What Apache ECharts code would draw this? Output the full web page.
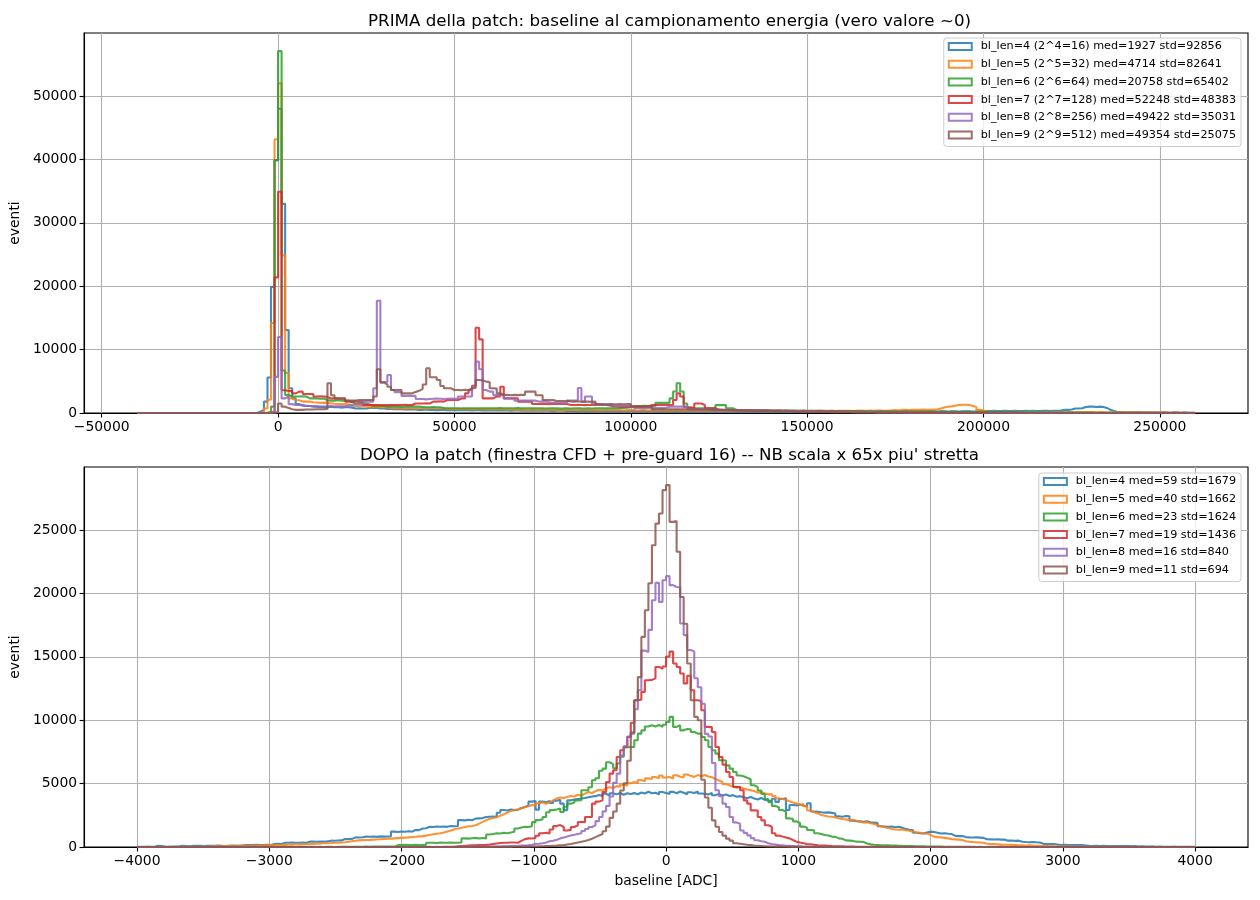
<!DOCTYPE html>
<html><head><meta charset="utf-8">
<script src="https://cdn.jsdelivr.net/npm/echarts@6/dist/echarts.min.js"></script>
<style>html,body{margin:0;padding:0;background:#fff}#c{width:1260px;height:900px}</style>
</head><body><div id="c"></div>
<script>
const topTitle = 'PRIMA della patch: baseline al campionamento energia (vero valore ~0)';
const bottomTitle = "DOPO la patch (finestra CFD + pre-guard 16) -- NB scala x 65x piu' stretta";
const yName = 'eventi';
const xName = 'baseline [ADC]';
const topNames = [
  'bl_len=4 (2^4=16) med=1927 std=92856',
  'bl_len=5 (2^5=32) med=4714 std=82641',
  'bl_len=6 (2^6=64) med=20758 std=65402',
  'bl_len=7 (2^7=128) med=52248 std=48383',
  'bl_len=8 (2^8=256) med=49422 std=35031',
  'bl_len=9 (2^9=512) med=49354 std=25075'
];
const bottomNames = [
  'bl_len=4 med=59 std=1679',
  'bl_len=5 med=40 std=1662',
  'bl_len=6 med=23 std=1624',
  'bl_len=7 med=19 std=1436',
  'bl_len=8 med=16 std=840',
  'bl_len=9 med=11 std=694'
];
const colors = ['#1f77b4','#ff7f0e','#2ca02c','#d62728','#9467bd','#8c564b'];
const topBinRange = [-40000, 260000];
const bottomBinRange = [-4000, 4000];
const countUnit = 100; // counts below are given in hundreds of events
const topXTicks = [-50000,0,50000,100000,150000,200000,250000];
const topYTicks = [0,10000,20000,30000,40000,50000];
const bottomXTicks = [-4000,-3000,-2000,-1000,0,1000,2000,3000,4000];
const bottomYTicks = [0,5000,10000,15000,20000,25000];

// ---- top panel counts (300 bins of 1000 ADC, from -40000) ----
const topBl4 = [
0,0,0,0,0,0,0,0,0,0,
0,0,0,0,0,0,0,0,0,0,
0,0,0,0,0,0,0,0,0,0,
0,0,0,0,2,5,18,56,199,399,
480,330,131,39,23,14,12,11,11,10,
10,9,9.5,9,10,9,9.5,8.5,9,9,
8.5,7,7.5,7,7,8,8,8,7,7,
6.5,6.5,6,6.5,6,5.5,6,5.5,5.5,5,
5,5.5,5,5,4.5,5,5,4.5,5,4.5,
4.5,5,4.5,4.5,4,4.5,4.5,4,4.5,4,
4,4,4.5,4,4,3.5,4,4,3.5,4,
3.5,4,3.5,3.5,4,3.5,3.5,3,3.5,3.5,
3.5,3,3.5,3,3,3.5,3,3,3,3,
3,3,3,2.5,3,3,3,2.5,3,3,
3,2.5,3,3,2.5,3,3,2.5,3,2.5,
3,2.5,2.5,3,2.5,2.5,3,2.5,2.5,2.5,
2.5,2.5,2.5,2.5,2.5,2.5,2,2.5,2.5,2.5,
2.5,2.5,2.5,2.5,2.5,2.5,2,2.5,2.5,2.5,
2.5,2.5,2,2.5,2.5,2,2.5,2.5,2,2.5,
2.5,2,2.5,2.5,2,2.5,2.5,2,2.5,2.5,
2.5,2,2.5,2,2.5,2.5,2,2.5,2,2.5,
2.5,2.5,2,2.5,2.5,2,2.5,2.5,2,2.5,
2,2.5,2.5,2,2.5,2.5,2,2.5,2.5,2,
2.5,2.5,2,2.5,2.5,2.5,2,2.5,3,3,
3,3,3.5,3,3,3.5,3,3,3.5,3,
3,3.5,3,3.5,3,3,3.5,3.5,3,3.5,
3.5,4,5,5,5.5,7,7,7.5,9.5,10,
10,9.5,10,9.5,8,5,3,1.5,1.5,1,
1,1,1,1.5,1,1,1,1,1,1,
1,1,0.5,1,1,0.5,1,0.5,0.5,0.5
];
const topBl5 = [
0,0,0,0,0,0,0,0,0,0,
0,0,0,0,0,0,0,0,0,0,
0,0,0,0,0,0,0,0,0,0,
0,0,0,0,0,2,7,21,142,432,
520,249,63,23,20.5,20,18,18,18,17,
16.5,16,16.3,16,15.5,14.5,14.2,14,14,13.5,
12,11,11,11.5,10.5,9,9,9,9.5,9,
8.5,8,7.5,7.5,7.5,7.5,7.5,7.5,7,7.5,
7.5,7,7.5,7.5,7,7,7.5,6,6,5.8,
5.8,6,5.8,5.8,5.5,5.8,6,5.8,5.5,5.8,
5.5,5.8,5.5,5.5,5,5.5,5.5,5,5.5,5,
5,5.5,5,5,5.5,5,5,4.5,5,5,
5,4.5,5,5,4.5,5,5,4.5,4.5,5,
4.5,5,4.5,4.5,5,4.5,4.5,4,4.5,4.5,
4.5,4,4.5,4.5,4,4.5,4,4,4.5,4,
4,4,4.5,4,4,3.5,4,4,3.5,4,
4,3.5,4,4,3.5,4,3.5,3.5,4,3.5,
3.5,3.5,4,3.5,3.5,3.5,3,3.5,3.5,3.5,
3.5,3.5,3,3.5,3.5,3.5,3,3.5,3.5,3,
3.5,3,3.5,3.5,3,3.5,3.5,3,3.5,3.5,
3.5,3.5,3,3.5,4,3.5,3.5,4,3.5,4,
4,3.5,4,4,4.5,4,5,5,4.5,5,
5,5,5.5,5,5,5.5,6,7,9,10,
10.5,11.5,12.5,13,13,12.5,11,9.5,5,4,
2,1.5,1.5,1.5,1.5,1.5,1.5,1.5,1.5,1.5,
1.5,1.5,1.5,1.5,1.5,1.5,1,1.5,1.5,1,
1.5,1.5,1,1.5,1.5,1,1.5,1,1.5,1.5,
1.5,1,1,1.5,1,1,1,1,1,1,
1,1,1,1,1,0.5,1,1,0.5,1,
1,0.5,0.5,1,0.5,0.5,0.5,0.5,0.5,0.5
];
const topBl6 = [
0,0,0,0,0,0,0,0,0,0,
0,0,0,0,0,0,0,0,0,0,
0,0,0,0,0,0,0,0,0,0,
0,0,0,0,0,0,0.5,2,10,399,
571,67,28.4,26,26,26,26.5,26,23,23,
23,22.5,23,20,19.5,19.5,20,19.5,19,19.5,
17,15,15.5,15,15,13,11,11.5,11,11,
10,10.5,10,10,9.5,10,10,10.5,10,10,
9.5,9,9,9.5,9,9,8,7.5,7.5,7.5,
7.5,7.6,7.4,7.5,7.3,7.6,7.5,7.4,7.6,7.5,
7.6,7.4,7.8,7.5,7.3,7.6,7.4,7.7,7.3,7.5,
7.4,7.6,7.3,7.5,7.4,7.2,7.5,7.3,7.4,7.2,
7.3,7.5,7.2,7.4,7.6,7.3,7.1,7.4,7.2,7.5,
7.4,7.6,7.3,7.5,7.8,7.6,7.9,8.1,8.4,9.2,
10.5,11,11,11.5,11,11,11.5,16,16,16,
16,23,34,47,34,15,7.4,7.5,7.4,7.6,
7.4,7.5,7.4,7.6,12.5,12.6,12.4,7.5,7.4,4.7,
4.7,4.6,4.5,4.6,4.4,4.3,4.4,4.2,4.3,4,
4,4.1,3.9,3.8,3.9,3.7,3.7,3.6,3.7,3.5,
3.5,3.4,3.5,3.3,3.3,3.2,3.3,3.1,3.1,3,
3,3.1,2.9,2.9,2.8,2.9,2.8,2.7,2.8,2.6,
2.6,2.7,2.5,2.5,2.6,2.4,2.4,2.5,2.3,2.3,
2.3,2.2,2.3,2.2,2.1,2.1,2,2.1,2,1.9,
1.9,2,1.8,1.8,1.9,1.7,1.7,1.6,1.7,1.6,
1.5,1.6,1.5,1.4,1.5,1.4,1.3,1.4,1.3,1.2,
1.2,1.3,1.1,1.1,1.2,1,1,1.1,0.9,0.9,
0.9,1,0.8,0.8,0.9,0.7,0.7,0.8,0.6,0.6,
0.6,0.5,0.6,0.5,0.4,0.5,0.4,0.3,0.4,0.3,
0.3,0.2,0.3,0.2,0.2,0.1,0.2,0.1,0.1,0.1,
0.1,0.1,0.1,0,0.1,0,0,0,0,0
];
const topBl7 = [
0,0,0,0,0,0,0,0,0,0,
0,0,0,0,0,0,0,0,0,0,
0,0,0,0,0,0,0,0,0,0,
0,0,0,0,0,0,0,0,3,214,
349,36,34.7,34.7,31,33.7,33.7,30,30,30,
26,26.5,26,25.5,23,23.5,23,22.5,23,18,
18,18.5,18,17.5,12.6,12.8,12.4,12.6,12.7,12.5,
12.6,12.4,12.7,12.5,12.6,12.8,12.5,12.6,15,15,
15,15.5,15,18,18,18.5,18,20.5,20.5,20.5,
20.5,23,23,31,36,43,134.6,116.2,23,23,
23,26,26,41.5,23,23,23,23,17.9,17.9,
17.9,17.9,14.2,14.2,14.4,14.2,14,14.2,14.3,14.2,
14.2,14.2,12.6,12.6,12.8,12.6,12.4,12.6,12.7,12.6,
12.6,12.6,12.6,12,11,10.5,10,10,10.2,10,
10,10.2,10,10,10,12.6,12.6,12.6,12.6,12.6,
12.6,12.6,20.5,31,26,9,9,7.4,15,15,
12.6,7.4,7.4,7.4,4.7,4.7,4.8,4.7,4.6,4.7,
4.5,4.4,4.3,4.2,4,4,3.9,3.8,3.7,3.6,
3.5,3.4,3.4,3.3,3.2,3.1,3,3,2.9,2.8,
2.7,2.6,2.6,2.5,2.4,2.3,2.3,2.2,2.1,2,
2,1.9,1.8,1.8,1.7,1.6,1.6,1.5,1.4,1.4,
1.3,1.3,1.2,1.2,1.1,1.1,1,1,0.9,0.9,
0.9,0.8,0.8,0.7,0.7,0.7,0.6,0.6,0.6,0.5,
0.5,0.5,0.5,0.4,0.4,0.4,0.4,0.3,0.3,0.3,
0.3,0.3,0.3,0.2,0.2,0.2,0.2,0.2,0.2,0.2,
0.2,0.1,0.1,0.1,0.1,0.1,0.1,0.1,0.1,0.1,
0.1,0.1,0.1,0.1,0,0.1,0,0.1,0,0,
0,0,0,0,0,0,0,0,0,0,
0,0,0,0,0,0,0,0,0,0,
0,0,0,0,0,0,0,0,0,0
];
const topBl8 = [
0,0,0,0,0,0,0,0,0,0,
0,0,0,0,0,0,0,0,0,0,
0,0,0,0,0,0,0,0,0,0,
0,0,0,0,0,0,0,0,2,57,
120,23,26,14,12.6,12.6,12,11.5,11,11,
10.5,10.5,10.2,10.5,10.8,10.5,10.4,10.5,10.6,12,
12,14,14,14,18,18,18,39,177,49,
49,60,36.3,33,33,27,27,27,27,22,
22,21.5,22,22.5,23,22.5,22,22.5,23,22.5,
22.5,26,26,26,26,41.5,81,69,36.3,33.7,
33.7,28.4,28.4,28.4,23,23,23,19.5,19.5,19.5,
19.5,19.5,19.5,18,18,18,17,16.3,16.3,16.3,
16.3,16.3,19.5,19.5,20,39.5,18,26,26,15,
12.6,12.6,12.6,12.6,11,11,11,11,11,11,
8,8.3,7.8,8.1,8,7.9,8.2,8,7.8,8.1,
10,10,10,10,10,10,5.8,5.8,5.8,5.8,
5.8,5.8,5.5,5.5,5.3,5.3,5,5,4.8,4.8,
4.6,4.5,4.4,4.3,4.2,4.1,4,3.9,3.8,3.7,
3.6,3.5,3.4,3.3,3.2,3.1,3,2.9,2.8,2.7,
2.6,2.5,2.4,2.3,2.2,2.1,2,1.9,1.8,1.7,
1.6,1.5,1.5,1.4,1.3,1.3,1.2,1.1,1.1,1,
1,0.9,0.9,0.8,0.8,0.7,0.7,0.6,0.6,0.6,
0.5,0.5,0.5,0.4,0.4,0.4,0.3,0.3,0.3,0.3,
0.2,0.2,0.2,0.2,0.2,0.1,0.1,0.1,0.1,0.1,
0.1,0.1,0.1,0.1,0,0.1,0,0,0.1,0,
0,0,0,0,0,0,0,0,0,0,
0,0,0,0,0,0,0,0,0,0,
0,0,0,0,0,0,0,0,0,0,
0,0,0,0,0,0,0,0,0,0,
0,0,0,0,0,0,0,0,0,0
];
const topBl9 = [
0,0,0,0,0,0,0,0,0,0,
0,0,0,0,0,0,0,0,0,0,
0,0,0,0,0,0,0,0,0,0,
0,0,0,0,0,0,0,0,0,2,
15,10,8,6,5,5,5,5.5,5.5,5.5,
6,6,6,6.5,47,28,23,23,23,19.5,
19.5,19.5,20.5,20.5,20.5,20.5,20.5,26,69,48,
45,41.5,36.3,36.3,36.3,31,31,31,33,35,
38,45,70.5,56.3,56.3,52,42.6,39,39,36.3,
36.3,35.8,36.8,36,39,39.5,52,51.5,49.5,49,
39,38.5,31,28.4,28.8,28,28.6,28.2,28.8,28.4,
33.7,33.7,34,28,28,20.5,20.5,20.5,19,19,
19,19.3,18.2,18,18.5,17.8,18.2,18,17.6,18.1,
14.2,14,13.8,14.3,14,13.9,14.1,13.7,14,14.2,
10,10,10,10,10,10,5.8,5.8,5.8,5.8,
5.8,6,5.7,5.9,5.8,5.6,5.9,5.7,5.8,5.6,
5.5,5.3,5.2,5,4.9,4.7,4.6,4.5,4.3,4.2,
4.1,4,3.8,3.7,3.6,3.5,3.4,3.3,3.2,3.1,
3,2.9,2.8,2.7,2.6,2.5,2.4,2.3,2.2,2.1,
2,1.9,1.8,1.7,1.6,1.5,1.4,1.4,1.3,1.2,
1.1,1.1,1,0.9,0.9,0.8,0.8,0.7,0.7,0.6,
0.6,0.5,0.5,0.5,0.4,0.4,0.4,0.3,0.3,0.3,
0.3,0.2,0.2,0.2,0.2,0.2,0.1,0.1,0.1,0.1,
0.1,0.1,0.1,0.1,0,0.1,0,0.1,0,0,
0,0,0,0,0,0,0,0,0,0,
0,0,0,0,0,0,0,0,0,0,
0,0,0,0,0,0,0,0,0,0,
0,0,0,0,0,0,0,0,0,0,
0,0,0,0,0,0,0,0,0,0,
0,0,0,0,0,0,0,0,0,0
];

// ---- bottom panel counts (300 bins over -4000..4000) ----
const botBl4 = [
0.1,0.2,0.1,0.2,0.2,1,0.8,0.3,0.2,0.3,
0.3,0.5,1,0.8,0.6,1,0.9,1,0.7,1,
1,0.9,1.1,1,0.8,1,1.2,1,1.1,1.3,
1.6,1.5,1.6,1.7,1.5,1.6,1.7,1.6,2.4,2.5,
2.4,3.4,3.3,3.5,3.4,3.3,3.6,3.4,4.2,4.3,
4.1,4.3,4.2,4.4,5,4.9,5.1,5.2,6.3,6.2,
6.4,7.6,7.5,7.7,8.2,8.1,8.3,8,8.4,8.2,
8.3,8.4,12.1,11.8,12.2,12,12.4,12.1,13.4,13.3,
14.6,14.8,15.9,15.8,16.2,16,16.1,15.9,16.6,16.4,
16.6,21.2,21,21.5,21.1,22.4,22.6,22.8,23.6,23.9,
24,23.8,27,29.2,28.8,29.5,29.1,29.4,30.8,31.5,
32.8,35.8,36.2,29.5,35.8,35.2,36.4,34.8,36.5,37.2,
34.2,29.1,36.8,37.4,37.9,38.3,38.6,39.2,39.8,40.1,
41,40.3,42,40.6,42.4,41.5,42.6,41.2,42.4,41.8,
42.5,41.6,43,42.2,43.6,42.4,42.8,41.5,43.4,42.6,
41.8,43.5,42.4,43.8,42.8,41.6,43.2,42.6,43.8,42.2,
42,41.4,42.6,40.8,41.9,40.6,41.4,40.2,40.9,39.6,
40.1,39.2,38.4,39.4,38.2,37.4,38.6,37.2,36.6,35.8,
38.1,35.6,37.8,38.4,29.2,33.1,32.8,33.5,32.6,31.9,
34.5,28,27.8,27.4,27.1,27.3,26.9,26.4,24.2,23.9,
24.5,24.2,20.8,20.4,20.2,19.8,20.3,19.5,19.2,18.8,
16.4,16.2,15.9,16.1,15.6,16,15.2,14.1,13.6,13.4,
11.2,10.8,10.6,11.5,12.1,11.8,11.2,10.6,10.8,10.4,
10.2,8.8,8.6,8.7,7.8,7.6,7.5,7.6,7.4,7.2,
6.1,6,5.9,6.1,5.8,5.9,5,5.1,4.8,5,
4.1,3.9,3.8,3.9,3.7,3.6,2.5,2.4,2.3,2.4,
1.9,1.6,1.7,1.6,1.5,1.6,1.6,1.5,1.2,0.9,
0.8,0.9,0.8,0.9,0.7,0.8,0.8,0.8,0.7,0.8,
0.8,0.5,0.7,0.4,0.5,0.3,0.4,0.3,0.2,0.3,
0.2,0.1,0.2,0.1,0.2,0.1,0.1,0.2,0.1,0.1
];
const botBl5 = [
0,0,0.1,0,0,0.1,0,0,0.1,0,
0.1,0,0.1,0.2,0.2,0.1,0.2,0.2,0.3,0.2,
0.4,0.5,0.6,0.7,0.7,0.8,0.8,0.9,0.8,0.9,
0.9,1,1.1,1.2,1.2,1.3,1.4,1.5,1.6,1.5,
1.6,1.7,1.8,1.9,2,2.1,2.2,2.3,2.4,2.5,
2.6,2.7,2.9,3,3.1,3.3,3.4,3.6,3.8,4.1,
4.6,4.9,5.2,5.4,5.5,5.6,5.8,5.9,6.1,6.3,
6.5,6.6,6.8,7,7.2,7.4,7.6,7.9,8.1,8.4,
8.6,9,9.5,10,10.5,10.9,11.5,12.2,13.1,14,
14.6,15.1,15.8,16.3,16.6,17.2,18.4,19.8,21.2,22.3,
22.8,23.5,24.6,25.8,27.1,28.3,29.1,29.8,30.6,31.4,
32.1,33.2,32.6,34.5,35.2,34.1,35.4,36.8,38.2,39.1,
38.6,39.5,40.2,39.8,41.2,40.6,42.1,43.4,42.6,44,
45.2,44.6,46.1,47.2,46.5,48,47.6,49.2,48.4,50.3,
51.2,50.4,52.8,51.9,54.1,53.6,55.2,54.3,56.4,54.8,
55.2,53.9,56.6,55.4,54.8,57.2,56.1,55.3,56.7,55.8,
56.8,55.6,55.1,53.6,52.4,51.3,49.5,48.6,47.9,46.8,
47.2,46.1,45.4,44.8,44.1,42.9,43.3,42.2,41.5,41.8,
40.2,38.4,37.9,37.2,36,35.1,34.4,33.2,33.8,32.1,
28.8,27.4,26.5,25.2,24.6,24.1,23.8,23.2,22.6,22.1,
21.8,21.2,21.5,20.6,19.9,19.4,19.6,18.8,18.2,17.1,
16.2,15.6,15.1,14.2,13.8,13.6,13.9,13.2,12.8,12.1,
11.6,11.2,10.8,10.4,9.6,8.2,7.8,7.6,7.2,6.8,
6.2,6,5.8,5.5,4.6,4.1,3.9,3.8,3.6,3.4,
2.6,2.4,2.3,2.1,1.9,1.8,1.8,1.7,1.6,1.4,
1.3,1.2,1.3,1.1,1,0.9,0.8,0.7,0.6,0.6,
0.6,0.5,0.6,0.4,0.4,0.3,0.4,0.3,0.2,0.3,
0.2,0.2,0.1,0.2,0.1,0.1,0.1,0.2,0.1,0,
0.1,0,0.1,0,0.1,0,0,0.1,0,0,
0,0,0,0.1,0,0,0,0,0,0
];
const botBl6 = [
0,0,0,0,0,0,0,0,0,0,
0,0,0,0,0,0,0,0,0,0,
0,0,0,0.1,0,0,0,0.1,0,0,
0,0,0.1,0,0,0.1,0,0,0.1,0,
0,0.1,0,0.1,0,0.1,0.1,0,0.1,0.1,
0,0.1,0,0.1,0.1,0,0.1,0.1,0.2,0.1,
0.1,0.2,0.1,0.2,0.3,0.2,0.3,0.4,0.3,0.4,
0.3,0.4,0.3,1.5,1.6,1.7,1.5,1.6,1.7,1.5,
1.6,1.7,3.3,3.4,3.2,3.5,3.4,3.3,3.6,3.4,
3.4,3.6,6.8,6.6,6.9,7.2,6.7,7.1,6.8,9.8,
10.2,10.8,10.6,11.2,10.9,11.4,12.1,14.6,15.4,15.9,
15.8,16.4,19.6,21.2,21.8,23.6,27.4,29.1,29.6,30.4,
27.6,31.8,34.2,35.1,36.8,36.9,44.7,44.8,47.1,52.6,
54.2,60.1,61.8,66.8,65.4,62.1,65.8,71.2,78.6,78.9,
78.9,84.2,89.4,92,95,96,95.1,96.2,94.7,96.4,
98.6,102.6,94.7,96,92,93,92.8,90.7,89.4,89.5,
86.8,84.2,78.9,76.3,73.6,68.4,68.2,64.4,61.8,59.2,
56.4,55.8,54.6,53.5,48.7,47.2,44.6,41.8,37.9,35.4,
32.4,31.3,29.2,27.9,22.6,22.1,20.2,18.9,16.1,15.2,
13.4,13.1,10.8,10.2,9.5,9.1,8.2,8,6.8,6.5,
5.2,5,4.8,4.2,4.1,3.9,2.8,2.1,1.8,1.6,
1.4,1.3,1.3,1.2,1.1,1,0.9,0.8,0.8,0.7,
0.6,0.5,0.5,0.4,0.4,0.3,0.3,0.3,0.2,0.2,
0.2,0.1,0.2,0.1,0.1,0.1,0.1,0,0.1,0,
0,0.1,0,0,0.1,0,0,0,0.1,0,
0,0,0,0,0,0,0,0,0,0,
0,0,0,0,0,0,0,0,0,0,
0,0,0,0,0,0,0,0,0,0,
0,0,0,0,0,0,0,0,0,0,
0,0,0,0,0,0,0,0,0,0
];
const botBl7 = [
0,0,0,0,0,0,0,0,0,0,
0,0,0,0,0,0,0,0,0,0,
0,0,0,0,0,0,0,0,0,0,
0,0,0,0,0,0,0,0,0,0,
0,0,0,0,0,0,0,0,0,0,
0,0,0,0,0,0,0,0,0,0,
0,0,0,0,0,0,0,0,0,0,
0,0,0,0,0,0,0,0,0,0,
0,0,0.1,0,0.1,0,0.1,0.1,0.1,0.1,
0.5,0.7,0.9,1.1,1.3,1.4,1.5,1.6,1.7,1.9,
2.4,2.8,3.1,3.4,3.3,3.5,3.6,3.4,4.8,6.2,
6.8,6.7,7.1,8.9,10.8,11.2,10.6,13.8,16.5,17.3,
15.8,13,13.5,15.8,17.1,19.7,19.6,23.7,23.6,34.2,
35.8,36.9,43.4,51.3,57.9,60.5,71,76.3,79,86.8,
98,115.7,116.2,122.3,131.5,131.8,133,142,140.6,142.4,
150.2,154.1,144.7,142,136.8,129,135,123.6,115.7,115.2,
107.8,94.7,94.5,90.7,78.9,71,65,59.2,55.2,47.3,
47.2,44.7,36.8,34.2,28.9,28.8,23.7,21,17.1,16,
10.8,9,8.2,7.5,6.8,5.5,4.2,3.5,3,2.4,
2.2,1.8,1.3,1.2,1.1,0.9,0.7,0.6,0.5,0.5,
0.4,0.3,0.3,0.2,0.2,0.2,0.1,0.1,0.1,0.1,
0.1,0,0.1,0,0.1,0,0,0,0,0,
0,0,0,0,0,0,0,0,0,0,
0,0,0,0,0,0,0,0,0,0,
0,0,0,0,0,0,0,0,0,0,
0,0,0,0,0,0,0,0,0,0,
0,0,0,0,0,0,0,0,0,0,
0,0,0,0,0,0,0,0,0,0,
0,0,0,0,0,0,0,0,0,0,
0,0,0,0,0,0,0,0,0,0
];
const botBl8 = [
0,0,0,0,0,0,0,0,0,0,
0,0,0,0,0,0,0,0,0,0,
0,0,0,0,0,0,0,0,0,0,
0,0,0,0,0,0,0,0,0,0,
0,0,0,0,0,0,0,0,0,0,
0,0,0,0,0,0,0,0,0,0,
0,0,0,0,0,0,0,0,0,0,
0,0,0,0,0,0,0,0,0,0,
0,0,0,0,0,0,0,0,0,0,
0.1,0.1,0.1,0.1,0.2,0.1,0.2,0.2,0.2,0.3,
0.3,0.4,0.4,0.5,0.6,0.7,0.8,0.9,1.1,1.2,
1.4,1.8,2.4,2.6,3,3.5,4.5,5,5.6,6.8,
7.5,8.2,9.1,9.6,10.2,10.8,12.6,14.2,15.8,17.1,
20.4,23.6,28.1,32.4,39.8,50.6,57.9,72.1,79.4,87.2,
89.4,108.6,123.6,154.9,153.8,171.2,194.6,208.3,193.3,210.4,
213.6,206.5,205,204.8,176.2,167.1,155.3,154.2,133.1,126,
113,89.2,87.1,66.2,44.7,40.1,34.2,31.6,23.7,19.4,
18.4,13,11.1,9.2,7,5.3,4.5,4.2,3,2.4,
2,1.5,1.3,1,0.9,0.7,0.5,0.5,0.4,0.3,
0.3,0.2,0.2,0.1,0.1,0.1,0.1,0,0.1,0,
0,0,0,0,0,0,0,0,0,0,
0,0,0,0,0,0,0,0,0,0,
0,0,0,0,0,0,0,0,0,0,
0,0,0,0,0,0,0,0,0,0,
0,0,0,0,0,0,0,0,0,0,
0,0,0,0,0,0,0,0,0,0,
0,0,0,0,0,0,0,0,0,0,
0,0,0,0,0,0,0,0,0,0,
0,0,0,0,0,0,0,0,0,0,
0,0,0,0,0,0,0,0,0,0
];
const botBl9 = [
0,0,0,0,0,0,0,0,0,0,
0,0,0,0,0,0,0,0,0,0,
0,0,0,0,0,0,0,0,0,0,
0,0,0,0,0,0,0,0,0,0,
0,0,0,0,0,0,0,0,0,0,
0,0,0,0,0,0,0,0,0,0,
0,0,0,0,0,0,0,0,0,0,
0,0,0,0,0,0,0,0,0,0,
0,0,0,0,0,0,0,0,0,0,
0,0,0,0,0,0,0,0,0,0,
0.1,0.1,0.1,0.1,0.2,0.1,0.2,0.2,0.2,0.3,
0.3,0.4,0.4,0.5,0.6,0.7,0.8,1,1.1,1.3,
1.5,2,2.4,3,3.6,4.2,4.8,5.6,6.5,7.8,
9,10.2,12.4,16.1,23,28,34.2,44.5,50.3,68,
90.2,115.7,134,165.7,186.7,208,238,255,263,281.4,
285.4,256.4,257,232.8,197.2,176,144.7,115.7,102.6,100,
53,39,31,21,16,11.8,9,6.6,5,3,
2.6,2.2,1.8,1.5,1.2,1,0.8,0.6,0.5,0.4,
0.3,0.3,0.2,0.2,0.1,0.1,0.1,0.1,0,0.1,
0,0,0,0,0,0,0,0,0,0,
0,0,0,0,0,0,0,0,0,0,
0,0,0,0,0,0,0,0,0,0,
0,0,0,0,0,0,0,0,0,0,
0,0,0,0,0,0,0,0,0,0,
0,0,0,0,0,0,0,0,0,0,
0,0,0,0,0,0,0,0,0,0,
0,0,0,0,0,0,0,0,0,0,
0,0,0,0,0,0,0,0,0,0,
0,0,0,0,0,0,0,0,0,0,
0,0,0,0,0,0,0,0,0,0
];

const topCounts = [topBl4, topBl5, topBl6, topBl7, topBl8, topBl9];
const botCounts = [botBl4, botBl5, botBl6, botBl7, botBl8, botBl9];
[...topCounts, ...botCounts].forEach((a, i) => { if (a.length !== 300) throw new Error('array ' + i + ' has ' + a.length); });

function stepPoints(counts, range) {
  const w = (range[1] - range[0]) / counts.length;
  const pts = [[range[0], 0]];
  counts.forEach((c, i) => pts.push([range[0] + i * w, c * countUnit]));
  pts.push([range[1], counts[counts.length - 1] * countUnit]);
  pts.push([range[1], 0]);
  return pts;
}
const pad = r => { const s = (r[1] - r[0]) * 0.05; return [r[0] - s, r[1] + s]; };
const maxOf = arrs => Math.max(...arrs.map(a => Math.max(...a))) * countUnit * 1.05;

const FONT = 'DejaVu Sans';
const fmt = v => String(v).replace('-', '\u2212');
const topX = pad(topBinRange), botX = pad(bottomBinRange);
const GL = 81, GR = 12;
const LW = 2.1;

function xAxis(idx, ext, ticks, name) {
  return {
    type: 'value', gridIndex: idx, min: ext[0], max: ext[1],
    splitNumber: idx === 0 ? 6 : 9,
    name: name || '', nameLocation: 'middle', nameGap: 27,
    nameTextStyle: { fontFamily: FONT, fontSize: 13.9, color: '#000' },
    axisLine: { show: true, onZero: false, lineStyle: { color: '#000', width: 1.1 } },
    axisTick: { show: true, length: 4.5, customValues: ticks, lineStyle: { color: '#000', width: 1.1 } },
    axisLabel: { margin: 7, customValues: ticks, formatter: fmt, fontFamily: FONT, fontSize: 13.9, color: '#000' },
    splitLine: { show: true, lineStyle: { color: '#b0b0b0', width: 1.1 } }
  };
}
function yAxis(idx, max, ticks) {
  return {
    type: 'value', gridIndex: idx, min: 0, max: max, splitNumber: 6,
    name: yName, nameLocation: 'middle', nameGap: 50, nameRotate: 90,
    nameTextStyle: { fontFamily: FONT, fontSize: 13.9, color: '#000' },
    axisLine: { show: true, onZero: false, lineStyle: { color: '#000', width: 1.1 } },
    axisTick: { show: true, length: 4.5, customValues: ticks, lineStyle: { color: '#000', width: 1.1 } },
    axisLabel: { margin: 7, customValues: ticks, formatter: fmt, fontFamily: FONT, fontSize: 13.9, color: '#000' },
    splitLine: { show: true, lineStyle: { color: '#b0b0b0', width: 1.1 } }
  };
}
function legend(names, top) {
  return {
    orient: 'vertical', right: 19, top: top,
    itemWidth: 23, itemHeight: 7, itemGap: 5.7,
    padding: [2.5, 5, 5.5, 4],
    backgroundColor: 'rgba(255,255,255,0.8)', borderColor: '#cccccc', borderWidth: 1, borderRadius: 3,
    textStyle: { fontFamily: FONT, fontSize: 11.2, lineHeight: 12, color: '#000', padding: [0, 0, 0, 4] },
    selectedMode: false,
    data: names.map((n, i) => ({ name: n, icon: 'rect', itemStyle: { color: '#ffffff', borderColor: colors[i], borderWidth: 2, opacity: 0.85 } }))
  };
}
const series = [];
topCounts.forEach((c, i) => series.push({
  name: topNames[i], type: 'line', xAxisIndex: 0, yAxisIndex: 0, step: 'end', symbol: 'none', showSymbol: false,
  data: stepPoints(c, topBinRange), color: colors[i],
  lineStyle: { color: colors[i], width: LW, opacity: 0.85 }, emphasis: { disabled: true }, silent: true
}));
botCounts.forEach((c, i) => series.push({
  name: bottomNames[i], type: 'line', xAxisIndex: 1, yAxisIndex: 1, step: 'end', symbol: 'none', showSymbol: false,
  data: stepPoints(c, bottomBinRange), color: colors[i],
  lineStyle: { color: colors[i], width: LW, opacity: 0.85 }, emphasis: { disabled: true }, silent: true
}));

const chart = echarts.init(document.getElementById('c'));
chart.setOption({
  animation: false,
  backgroundColor: '#ffffff',
  title: [
    { text: topTitle, left: (GL + 1260 - GR) / 2, top: 7, textAlign: 'center',
      textStyle: { fontFamily: FONT, fontSize: 16.7, fontWeight: 'normal', color: '#000', lineHeight: 20 } },
    { text: bottomTitle, left: (GL + 1260 - GR) / 2, top: 441, textAlign: 'center',
      textStyle: { fontFamily: FONT, fontSize: 16.7, fontWeight: 'normal', color: '#000', lineHeight: 20 } }
  ],
  grid: [
    { left: GL, right: GR, top: 33, height: 380, show: true, borderColor: '#000', borderWidth: 1.1, backgroundColor: 'transparent' },
    { left: GL, right: GR, top: 467, height: 380, show: true, borderColor: '#000', borderWidth: 1.1, backgroundColor: 'transparent' }
  ],
  xAxis: [ xAxis(0, topX, topXTicks, ''), xAxis(1, botX, bottomXTicks, xName) ],
  yAxis: [ yAxis(0, maxOf(topCounts), topYTicks), yAxis(1, maxOf(botCounts), bottomYTicks) ],
  legend: [ legend(topNames, 38), legend(bottomNames, 473) ],
  series: series
});
</script>
</body></html>
